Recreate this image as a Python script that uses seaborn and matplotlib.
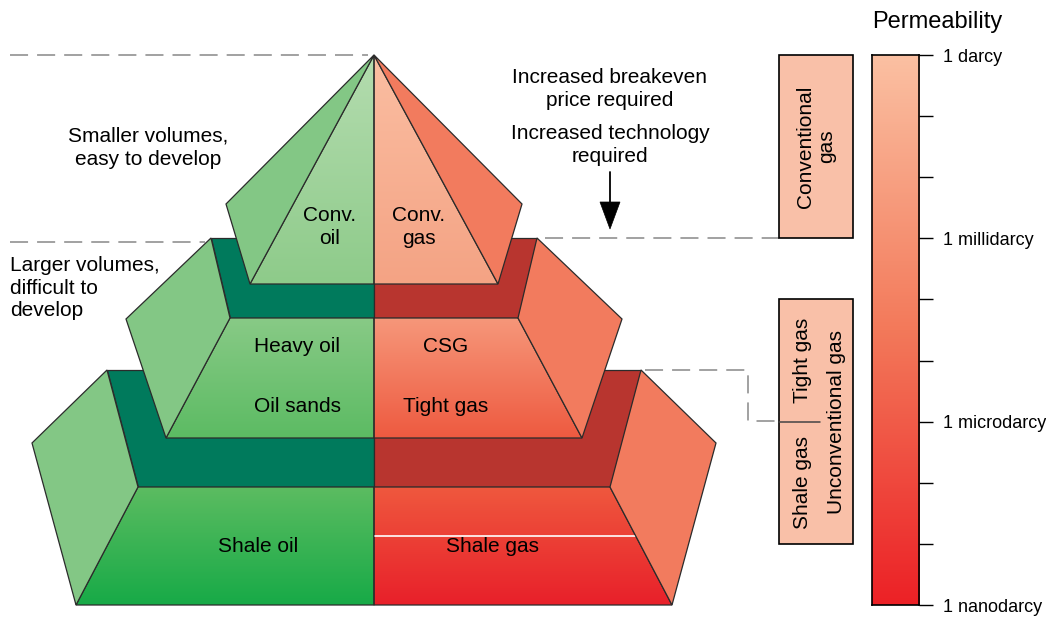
import numpy as np
import matplotlib
matplotlib.use("Agg")
import matplotlib.pyplot as plt
import matplotlib.transforms as mtransforms
from matplotlib.patches import Polygon, Rectangle
import seaborn as sns

# ---------------- data ----------------
oil_labels = ["Conv.\noil", "Heavy oil", "Oil sands", "Shale oil"]
gas_labels = ["Conv.\ngas", "CSG", "Tight gas", "Shale gas"]
perm_all_ticks = [0, -1, -2, -3, -4, -5, -6, -7, -8, -9]      # log10(darcy)
perm_major_ticks = [0, -3, -6, -9]
perm_tick_labels = ["1 darcy", "1 millidarcy", "1 microdarcy", "1 nanodarcy"]
conv_gas_range = [0, -3]
unconv_gas_range = [-4, -8]
tight_shale_split = -6
box_labels = ["Conventional\ngas", "Tight gas", "Shale gas", "Unconventional gas"]
left_notes = ["Smaller volumes,\neasy to develop", "Larger volumes,\ndifficult to\ndevelop"]
right_notes = ["Increased breakeven\nprice required", "Increased technology\nrequired"]
scale_title = "Permeability"

# ---------------- style ----------------
sns.set_theme(style="white", rc={"text.color": "black", "ytick.color": "black",
                                 "axes.labelcolor": "black"})
plt.rcParams["font.family"] = ["Liberation Sans", "DejaVu Sans"]
FS = 15
EDGE = "#2b2b2b"
LW = 0.9
DASH = "#9a9a9a"

GREEN_SIDE = "#83c785"
RED_SIDE = "#f27b5e"
GREEN_BAND = "#007a5c"
RED_BAND = "#b8352f"
oil_front = [("#b4dcaf", "#8ecb8a"), ("#88ca86", "#5cbb63"), ("#5cbc61", "#17aa47")]
gas_front = [("#fbbea2", "#f4a384"), ("#f6977a", "#ee5a40"), ("#ef583e", "#e8202a")]

W, H = 1046, 617
fig = plt.figure(figsize=(W / 100, H / 100), dpi=100, facecolor="white")

# permeability scale axes (drawn first, main diagram axes on top)
cb_ax = fig.add_axes([872 / W, 1 - 605 / H, 47 / W, 550 / H])
perm_cmap = sns.blend_palette(["#ec2126", "#f3795a", "#fbc0a2"], as_cmap=True)
cb_ax.imshow(np.linspace(0, -9, 400).reshape(-1, 1), cmap=perm_cmap, vmin=-9, vmax=0,
             extent=(0, 1, -9, 0), aspect="auto", interpolation="bilinear", origin="upper")
cb_ax.set_xlim(0, 1)
cb_ax.set_ylim(min(perm_all_ticks), max(perm_all_ticks))
cb_ax.set_xticks([])
cb_ax.yaxis.tick_right()
cb_ax.set_yticks(perm_major_ticks)
cb_ax.set_yticklabels(perm_tick_labels, fontsize=13, color="black")
cb_ax.set_yticks(perm_all_ticks, minor=True)
cb_ax.tick_params(which="both", axis="y", direction="out", length=10, width=1.0,
                  color="black", right=True, left=False, pad=7)
for sp in cb_ax.spines.values():
    sp.set_visible(True)
    sp.set_color("black")
    sp.set_linewidth(1.2)

ax = fig.add_axes([0, 0, 1, 1])
ax.axis("off")

CX = 374


def mirror(pts):
    return [(2 * CX - x, y) for x, y in pts]


def flat(pts, color, z):
    ax.add_patch(Polygon(pts, closed=True, fc=color, ec=EDGE, lw=LW, zorder=z, joinstyle="miter"))


def grad(pts, c_top, c_bot, z):
    poly = Polygon(pts, closed=True, fc="none", ec=EDGE, lw=LW, zorder=z + 0.5, joinstyle="miter")
    ax.add_patch(poly)
    xs, ys = zip(*pts)
    cmap = sns.blend_palette([c_top, c_bot], as_cmap=True)
    im = ax.imshow(np.linspace(0, 1, 256).reshape(-1, 1), cmap=cmap,
                   extent=(min(xs), max(xs), max(ys), min(ys)), aspect="auto",
                   interpolation="bilinear", zorder=z)
    im.set_clip_path(poly)


# tier geometry (left half, mirrored for the gas side)
t1_side = [(374, 55), (226, 204), (250, 284)]
t1_front = [(374, 55), (250, 284), (374, 284)]
t2_band = [(211, 238), (374, 238), (374, 318), (230, 318)]
t2_side = [(211, 238), (126, 319), (166, 438), (230, 318)]
t2_front = [(230, 318), (374, 318), (374, 438), (166, 438)]
t3_band = [(107, 370), (374, 370), (374, 487), (138, 487)]
t3_side = [(107, 370), (32, 443), (76, 605), (138, 487)]
t3_front = [(138, 487), (374, 487), (374, 605), (76, 605)]

# tier 3 (bottom)
flat(t3_band, GREEN_BAND, 1)
flat(mirror(t3_band), RED_BAND, 1)
grad(t3_front, *oil_front[2], z=2)
grad(mirror(t3_front), *gas_front[2], z=2)
flat(t3_side, GREEN_SIDE, 3)
flat(mirror(t3_side), RED_SIDE, 3)
# white line in shale gas face
xr = 610 + (672 - 610) * (536 - 487) / (605 - 487)
ax.plot([375, xr - 1], [536, 536], color="white", lw=1.2, zorder=2.6)

# tier 2
flat(t2_band, GREEN_BAND, 4)
flat(mirror(t2_band), RED_BAND, 4)
grad(t2_front, *oil_front[1], z=5)
grad(mirror(t2_front), *gas_front[1], z=5)
flat(t2_side, GREEN_SIDE, 6)
flat(mirror(t2_side), RED_SIDE, 6)

# tier 1 (top)
grad(t1_front, *oil_front[0], z=7)
grad(mirror(t1_front), *gas_front[0], z=7)
flat(t1_side, GREEN_SIDE, 8)
flat(mirror(t1_side), RED_SIDE, 8)

# pyramid labels
oil_pos = [(330, 227), (297, 346), (297, 407), (258, 547)]
gas_pos = [(419, 227), (446, 346), (446, 407), (492, 547)]
for lab, (x, y) in zip(oil_labels, oil_pos):
    ax.text(x, y, lab, fontsize=FS, ha="center", va="center", linespacing=1.3, zorder=20)
for lab, (x, y) in zip(gas_labels, gas_pos):
    ax.text(x, y, lab, fontsize=FS, ha="center", va="center", linespacing=1.3, zorder=20)

# left notes
ax.text(148, 148, left_notes[0], fontsize=FS, ha="center", va="center", linespacing=1.3)
ax.text(10, 288, left_notes[1], fontsize=FS, ha="left", va="center", linespacing=1.25)

# right notes and arrow
ax.text(610, 89, right_notes[0], fontsize=FS, ha="center", va="center", linespacing=1.25)
ax.text(610, 145, right_notes[1], fontsize=FS, ha="center", va="center", linespacing=1.25)
ax.plot([610, 610], [172, 205], color="black", lw=1.3)
ax.add_patch(Polygon([(600, 202), (620, 202), (610, 229)], closed=True, fc="black", ec="black", lw=0.5))

# dashed guide lines
dkw = dict(color=DASH, lw=1.3, dashes=(10, 5), zorder=0.5)
ax.plot([10, 368], [55, 55], **dkw)
ax.plot([10, 205], [242, 242], **dkw)
ax.plot([545, 779], [238, 238], **dkw)
ax.plot([645, 748, 748, 779], [370, 370, 421, 421], **dkw)

# boxes tied to the permeability scale
bt = mtransforms.blended_transform_factory(ax.transData, cb_ax.transData)
BOX_FILL = "#f9c0a8"
ax.add_patch(Rectangle((779, conv_gas_range[1]), 74, conv_gas_range[0] - conv_gas_range[1],
                       transform=bt, fc=BOX_FILL, ec="black", lw=1.2, zorder=5))
ax.add_patch(Rectangle((779, unconv_gas_range[1]), 74, unconv_gas_range[0] - unconv_gas_range[1],
                       transform=bt, fc=BOX_FILL, ec="black", lw=1.2, zorder=5))
ax.plot([779, 820], [tight_shale_split, tight_shale_split], color="#444444", lw=1.1,
        transform=bt, zorder=6)
ax.text(816, np.mean(conv_gas_range), box_labels[0], transform=bt, rotation=90,
        fontsize=FS, ha="center", va="center", multialignment="center", linespacing=1.1, zorder=7)
ax.text(803, (unconv_gas_range[0] + tight_shale_split) / 2, box_labels[1], transform=bt,
        rotation=90, fontsize=FS, ha="center", va="center", zorder=7)
ax.text(803, (unconv_gas_range[1] + tight_shale_split) / 2, box_labels[2], transform=bt,
        rotation=90, fontsize=FS, ha="center", va="center", zorder=7)
ax.text(837, np.mean(unconv_gas_range), box_labels[3], transform=bt,
        rotation=90, fontsize=FS, ha="center", va="center", zorder=7)

ax.text(937, 22, scale_title, fontsize=17, ha="center", va="center")

ax.set_xlim(0, W)
ax.set_ylim(H, 0)

fig.savefig("out.png", dpi=100, facecolor="white")
